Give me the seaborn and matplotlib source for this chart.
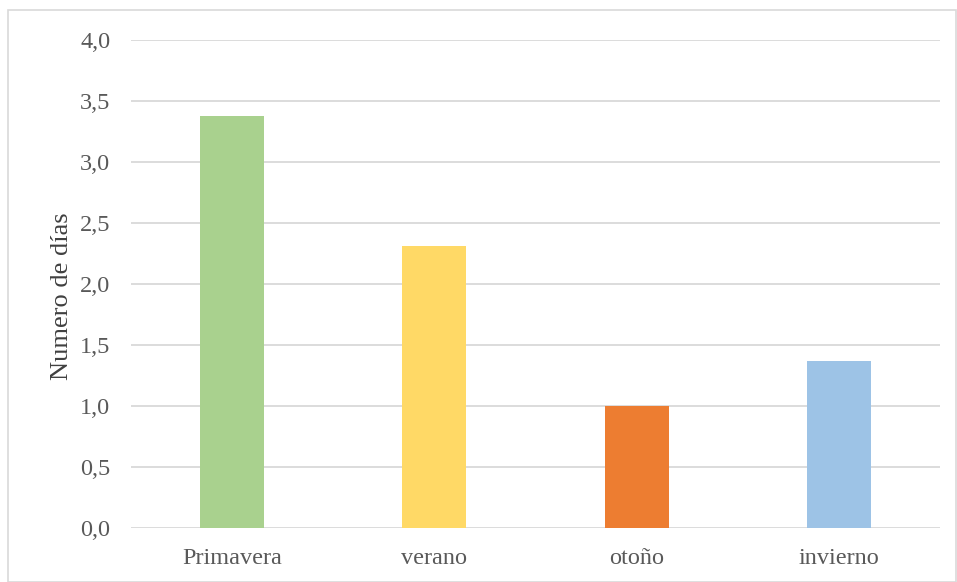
import matplotlib
matplotlib.use("Agg")
import matplotlib.pyplot as plt
import seaborn as sns
import pandas as pd
from matplotlib.patches import Rectangle
from matplotlib.ticker import FuncFormatter

estaciones = ["Primavera", "verano", "otoño", "invierno"]
dias = [3.377, 2.311, 1.0, 1.369]
colores = ["#A9D18E", "#FFD966", "#ED7D31", "#9DC3E6"]

df = pd.DataFrame({"estacion": estaciones, "dias": dias})

sns.set_style("white")
plt.rcParams["font.family"] = ["Liberation Serif", "DejaVu Serif"]

fig = plt.figure(figsize=(9.57, 5.82), dpi=100)
ax = fig.add_axes([131 / 957, 1 - 528.3 / 582, (940 - 131) / 957, (528.3 - 40) / 582])

sns.barplot(data=df, x="estacion", y="dias", hue="estacion", palette=colores,
            legend=False, width=0.316, saturation=1, linewidth=0, ax=ax, zorder=3)

ax.set_ylim(0, 4)
ax.set_xlim(-0.5, 3.5)
ax.set_yticks([i * 0.5 for i in range(9)])
ax.yaxis.set_major_formatter(FuncFormatter(lambda v, p: f"{v:.1f}".replace(".", ",")))
ax.grid(axis="y", color="#D9D9D9", lw=1.3, zorder=0)
ax.set_axisbelow(True)
for s in ax.spines.values():
    s.set_visible(False)
ax.tick_params(length=0, labelsize=17.5, labelcolor="#595959")
ax.tick_params(axis="x", pad=14)
ax.tick_params(axis="y", pad=15)
ax.set_xlabel("")
ax.set_ylabel("Numero de días", fontsize=19, color="#404040")
ax.yaxis.set_label_coords(-0.072, 0.476)

fig.patches.append(Rectangle((8 / 957, 0), 948 / 957, 1 - 10 / 582, transform=fig.transFigure,
                             fill=False, edgecolor="#D9D9D9", lw=1.2))

fig.savefig("out.png", dpi=100)
